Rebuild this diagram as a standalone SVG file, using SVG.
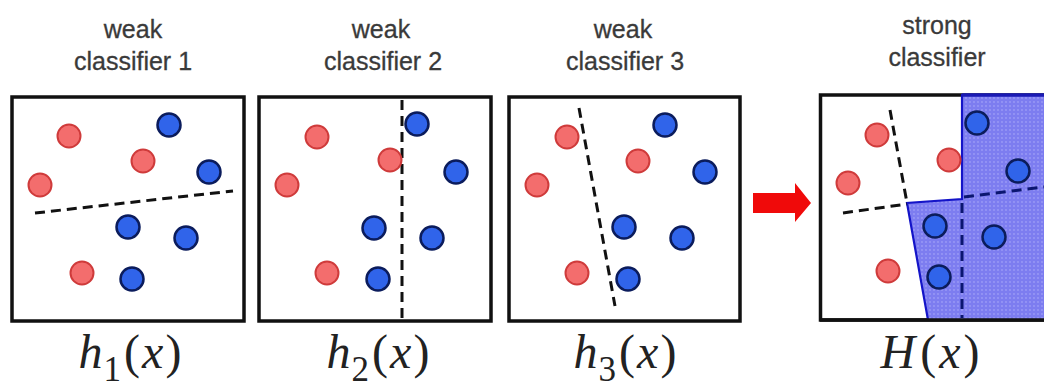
<svg xmlns="http://www.w3.org/2000/svg" width="1044" height="390" viewBox="0 0 1044 390">
<defs>
<pattern id="dots" width="4" height="4" patternUnits="userSpaceOnUse">
<rect width="4" height="4" fill="#7d7df0"/>
<circle cx="2" cy="2" r="0.9" fill="#9b9bf6"/>
</pattern>
</defs>
<style>
.frame{fill:#fff;stroke:#111;stroke-width:3.5}
.r{fill:#f36d6d;stroke:#cf3b3b;stroke-width:2}
.b{fill:#3064ea;stroke:#0b1c5c;stroke-width:2.5}
.d{fill:none;stroke:#111;stroke-width:3;stroke-dasharray:10 6}
.dn{fill:none;stroke:#0b1670;stroke-width:3;stroke-dasharray:10 6}
.lbl{font-family:"Liberation Sans",Arial,sans-serif;font-size:25px;fill:#3a3a3a;text-anchor:middle;stroke:#3a3a3a;stroke-width:0.3}
.m{font-family:"Liberation Serif","Times New Roman",serif;font-size:48px;fill:#222;text-anchor:middle}
.i{font-style:italic}
</style>
<rect width="1044" height="390" fill="#fff"/>

<g id="panel1">
<text class="lbl" x="133" y="38">weak</text>
<text class="lbl" x="133" y="70">classifier 1</text>
<rect class="frame" x="12" y="97" width="232" height="224"/>
<line class="d" x1="35" y1="213" x2="233" y2="191"/>
<circle class="r" cx="69" cy="136" r="11.5"/>
<circle class="r" cx="143" cy="161" r="11.5"/>
<circle class="r" cx="40" cy="185" r="11.5"/>
<circle class="r" cx="82" cy="273" r="11.5"/>
<circle class="b" cx="169" cy="125" r="11.5"/>
<circle class="b" cx="209" cy="172" r="11.5"/>
<circle class="b" cx="128" cy="227" r="11.5"/>
<circle class="b" cx="186" cy="238" r="11.5"/>
<circle class="b" cx="132" cy="279" r="11.5"/>
<text class="m" x="130" y="368"><tspan class="i">h</tspan><tspan font-size="35" dx="1" dy="13">1</tspan><tspan dx="3" dy="-13">(</tspan><tspan class="i" dx="2">x</tspan><tspan dx="2">)</tspan></text>
</g>

<g id="panel2">
<text class="lbl" x="381" y="38">weak</text>
<text class="lbl" x="383" y="70">classifier 2</text>
<rect class="frame" x="259" y="97" width="232" height="224"/>
<line class="d" x1="402" y1="100" x2="402" y2="318"/>
<circle class="r" cx="317" cy="137" r="11.5"/>
<circle class="r" cx="390" cy="160" r="11.5"/>
<circle class="r" cx="287" cy="185" r="11.5"/>
<circle class="r" cx="327" cy="273" r="11.5"/>
<circle class="b" cx="417" cy="124" r="11.5"/>
<circle class="b" cx="456" cy="172" r="11.5"/>
<circle class="b" cx="374" cy="228" r="11.5"/>
<circle class="b" cx="432" cy="238" r="11.5"/>
<circle class="b" cx="378" cy="279" r="11.5"/>
<text class="m" x="378" y="368"><tspan class="i">h</tspan><tspan font-size="35" dx="1" dy="13">2</tspan><tspan dx="3" dy="-13">(</tspan><tspan class="i" dx="2">x</tspan><tspan dx="2">)</tspan></text>
</g>

<g id="panel3">
<text class="lbl" x="623" y="38">weak</text>
<text class="lbl" x="625" y="70">classifier 3</text>
<rect class="frame" x="509" y="97" width="231" height="224"/>
<line class="d" x1="579" y1="108" x2="615" y2="306"/>
<circle class="r" cx="567" cy="137" r="11.5"/>
<circle class="r" cx="638" cy="161" r="11.5"/>
<circle class="r" cx="537" cy="185" r="11.5"/>
<circle class="r" cx="577" cy="273" r="11.5"/>
<circle class="b" cx="665" cy="125" r="11.5"/>
<circle class="b" cx="705" cy="172" r="11.5"/>
<circle class="b" cx="624" cy="227" r="11.5"/>
<circle class="b" cx="682" cy="238" r="11.5"/>
<circle class="b" cx="628" cy="279" r="11.5"/>
<text class="m" x="625" y="368"><tspan class="i">h</tspan><tspan font-size="35" dx="1" dy="13">3</tspan><tspan dx="3" dy="-13">(</tspan><tspan class="i" dx="2">x</tspan><tspan dx="2">)</tspan></text>
</g>

<g id="connectors">
<path d="M753 193 H795 V183 L811 203 L795 222 V213 H753 Z" fill="#f00a0a"/>
</g>

<g id="panel4">
<text class="lbl" x="937" y="34">strong</text>
<text class="lbl" x="937" y="66">classifier</text>
<rect class="frame" x="820.5" y="95" width="240" height="225"/>
<path d="M962 95 V199 L907 203 L928 320 H1046 V95 Z" fill="url(#dots)" stroke="#1414c8" stroke-width="2.2"/>
<line x1="962" y1="95" x2="1046" y2="95" stroke="#1a1ab4" stroke-width="3.5"/>
<line x1="820" y1="320" x2="1046" y2="320" stroke="#111" stroke-width="3.5"/>
<line class="d" x1="890" y1="110" x2="907" y2="203"/>
<line class="d" x1="843" y1="213" x2="907" y2="204"/>
<line class="dn" x1="964" y1="197" x2="1044" y2="187"/>
<line class="dn" x1="962" y1="203" x2="962" y2="318"/>
<circle class="r" cx="877" cy="135" r="11.5"/>
<circle class="r" cx="949" cy="160" r="11.5"/>
<circle class="r" cx="848" cy="183" r="11.5"/>
<circle class="r" cx="888" cy="271" r="11.5"/>
<circle class="b" cx="977" cy="123" r="11.5" fill="#1f3fe6"/>
<circle class="b" cx="1018" cy="171" r="11.5" fill="#1f3fe6"/>
<circle class="b" cx="935" cy="226" r="11.5" fill="#1f3fe6"/>
<circle class="b" cx="994" cy="237" r="11.5" fill="#1f3fe6"/>
<circle class="b" cx="939" cy="277" r="11.5" fill="#1f3fe6"/>
<text class="m" x="930" y="368"><tspan class="i">H</tspan><tspan dx="5">(</tspan><tspan class="i" dx="3">x</tspan><tspan dx="3">)</tspan></text>
</g>
</svg>
